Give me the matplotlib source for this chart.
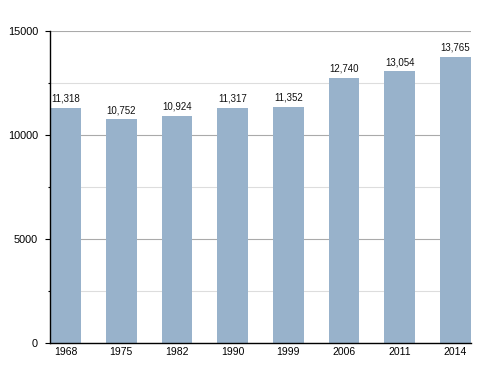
import matplotlib.pyplot as plt
from matplotlib.ticker import MultipleLocator

plt.rcParams['font.family'] = ['Liberation Sans', 'DejaVu Sans']

years = ["1968", "1975", "1982", "1990", "1999", "2006", "2011", "2014"]
population = [11318, 10752, 10924, 11317, 11352, 12740, 13054, 13765]

fig = plt.figure(figsize=(5, 3.73), dpi=100)
ax = fig.add_axes([0.1, 0.0804, 0.842, 0.8365])

x = list(range(len(years)))
ax.bar(x, population, width=0.55, color="#98b2cb", zorder=2)
for xi, v in zip(x, population):
    ax.annotate(f"{v:,}", (xi, v), xytext=(0, 3), textcoords="offset points",
                ha="center", va="bottom", fontsize=7, color="#111111")

ax.set_xlim(-0.28, 7.28)
ax.set_ylim(0, 15000)
ax.set_xticks(x)
ax.set_xticklabels(years)
ax.yaxis.set_major_locator(MultipleLocator(5000))
ax.yaxis.set_minor_locator(MultipleLocator(2500))
ax.grid(axis="y", which="major", color="#aaaaaa", lw=0.8, zorder=0)
ax.grid(axis="y", which="minor", color="#dddddd", lw=0.8, zorder=0)
ax.set_axisbelow(True)

for s in ["top", "right"]:
    ax.spines[s].set_visible(False)
ax.spines["left"].set_linewidth(1.0)
ax.spines["bottom"].set_linewidth(1.0)
ax.tick_params(axis="x", length=0, labelsize=7.5, pad=3)
ax.tick_params(axis="y", which="major", length=3.6, width=0.8, labelsize=7.8, pad=5)
ax.tick_params(axis="y", which="minor", length=1.8, width=0.8)

fig.savefig("out.png", dpi=100)
